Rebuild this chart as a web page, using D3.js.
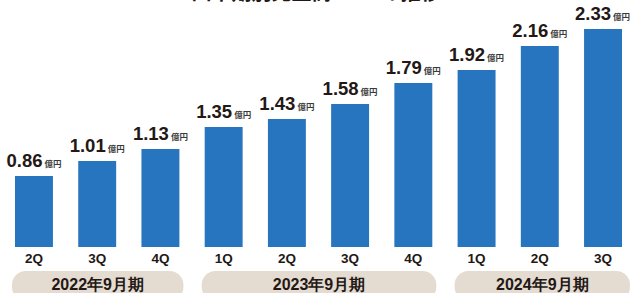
<!DOCTYPE html>
<html><head><meta charset="utf-8">
<script src="https://cdn.jsdelivr.net/npm/d3@7"></script>
<style>
html,body{margin:0;padding:0;background:#fff;overflow:hidden}
svg{display:block}
</style></head>
<body>
<svg id="c" width="631" height="293"></svg>
<script>
const quarters = ["2Q","3Q","4Q","1Q","2Q","3Q","4Q","1Q","2Q","3Q"];
const values = [0.86,1.01,1.13,1.35,1.43,1.58,1.79,1.92,2.16,2.33];
const periods = ["2022年9月期","2023年9月期","2024年9月期"];
const periodOf = [0,0,0,1,1,1,1,2,2,2];
const unit = "億円";
const title = "四半期別売上高 ARR の推移";

const W = 631, H = 293;
const svg = d3.select("#c");
const ids = values.map((v,i)=>i);
const x = d3.scaleBand().domain(ids).range([15,622]).paddingInner(0.4).paddingOuter(0);
const y = d3.scaleLinear().domain([0.15,2.33]).range([247,29]);
const numFont = "'Liberation Sans', Arial, Helvetica, sans-serif";
const jpFont = "'Noto Sans CJK JP', 'Noto Sans', sans-serif";

// title (mostly cut off at top, as in the reference)
svg.append("text").attr("x",316).attr("y",0).attr("text-anchor","middle")
  .attr("font-family",jpFont).attr("font-weight","bold").attr("font-size",20)
  .attr("fill","#231815").text(title);

// bars
svg.selectAll("rect.bar").data(values).join("rect").attr("class","bar")
  .attr("x",(d,i)=>x(i)).attr("width",x.bandwidth())
  .attr("y",d=>y(d)).attr("height",d=>y.range()[0]-y(d))
  .attr("fill","#2675be");

// value labels
const lab = svg.selectAll("text.val").data(values).join("text").attr("class","val")
  .attr("y",d=>y(d)-9)
  .attr("fill","#231815");
lab.append("tspan").attr("font-family",numFont).attr("font-weight","bold").attr("font-size",18.5)
  .text(d=>d.toFixed(2));
lab.append("tspan").attr("dx",2).attr("font-family",jpFont).attr("font-weight","bold").attr("font-size",8.5)
  .attr("fill","#3a3a3a").text(unit);
lab.each(function(d,i){
  const w = this.getComputedTextLength() + 2;
  let left = x(i)+x.bandwidth()/2 - w/2;
  if (left + w > W - 1) left = W - 1 - w;
  d3.select(this).attr("x", left);
});

// quarter labels
svg.selectAll("text.q").data(quarters).join("text").attr("class","q")
  .attr("x",(d,i)=>x(i)+x.bandwidth()/2).attr("y",263)
  .attr("text-anchor","middle").attr("font-family",numFont).attr("font-weight","bold")
  .attr("font-size",13.5).attr("fill","#231815").text(d=>d);

// period pills
const groups = periods.map((p,k)=>{
  const idx = ids.filter(i=>periodOf[i]===k);
  return {label:p, first:d3.min(idx), last:d3.max(idx)};
});
const pl = (d)=>x(d.first)-3;
const pr = (d,k)=> k===groups.length-1 ? W-1 : x(d.last)+x.bandwidth()+4;
const pill = svg.selectAll("g.pill").data(groups).join("g").attr("class","pill");
pill.append("rect")
  .attr("x",d=>pl(d))
  .attr("width",(d,k)=> pr(d,k)-pl(d))
  .attr("y",271).attr("height",30).attr("rx",14).attr("ry",14)
  .attr("fill","#e4dbd1");
pill.append("text")
  .attr("x",(d,k)=>(pl(d)+pr(d,k))/2)
  .attr("y",290).attr("text-anchor","middle")
  .attr("font-family",numFont).attr("font-weight","bold").attr("font-size",16)
  .attr("fill","#231815").text(d=>d.label);
</script>
</body></html>
